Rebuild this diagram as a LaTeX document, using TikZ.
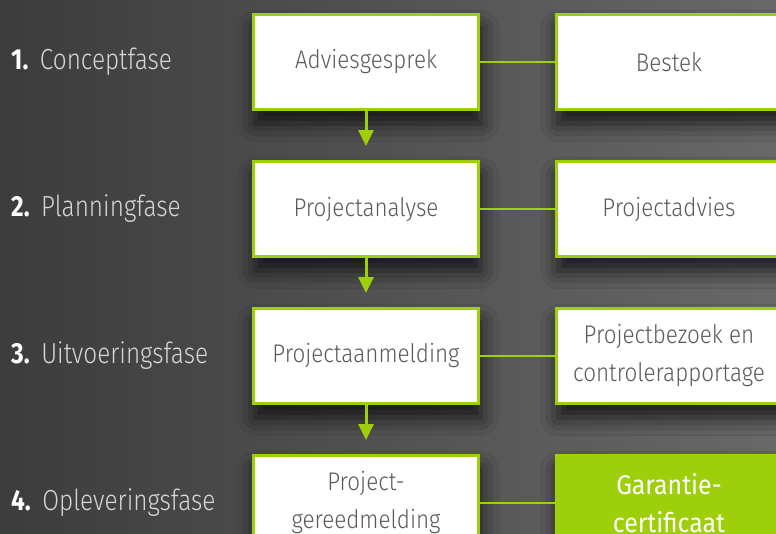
\documentclass[tikz,border=0pt]{standalone}
\usepackage{fontspec}
\setmainfont{Fira Sans}[UprightFont=* Light, BoldFont=* Bold, FakeStretch=0.88]
\newfontfamily\resultfont{Fira Sans}[FakeStretch=0.92]
\newfontfamily\phasefont{Fira Sans}[UprightFont=* Light, BoldFont=* Bold, FakeStretch=0.84]
\usetikzlibrary{positioning}
\usetikzlibrary{arrows.meta}
\usetikzlibrary{shadows.blur}
\definecolor{lime}{HTML}{9ECF0B}
\definecolor{boxtext}{HTML}{5A5A5A}
\definecolor{phasetext}{HTML}{D6D6D6}
\definecolor{bgleft}{HTML}{3C3C3C}
\definecolor{bgright}{HTML}{686868}
% bold white number in front of a phase name
\newcommand{\phasenum}[1]{{\color{white}\bfseries #1.}\hspace{0.4em}}
\tikzset {
  % box of one step
  stepnode/.style = {
    draw = lime,
    line width = 3pt,
    fill = white,
    minimum width = 225pt,
    minimum height = 95pt,
    inner sep = 0pt,
    align = center,
    text = boxtext,
    font = \fontsize{25.5}{38}\selectfont,
    blur shadow = {shadow xshift = 2pt, shadow yshift = -14pt,
      shadow blur radius = 18pt, shadow opacity = 75}
  },
  % final step, filled
  result/.style = {
    stepnode,
    fill = lime,
    text = white,
    font = \resultfont\fontsize{27}{38}\selectfont
  },
  % phase name on the left
  phase/.style = {
    anchor = west,
    inner sep = 0pt,
    text = phasetext,
    font = \phasefont\fontsize{29}{34}\selectfont
  },
  % arrow down to the next step
  flow/.style = {
    draw = lime,
    line width = 3pt,
    -{Triangle[width = 15pt, length = 16pt]},
    shorten > = 14pt
  },
  % line to the side box
  link/.style = {
    draw = lime,
    line width = 2.5pt
  },
  node distance = 49pt and 75pt
}
\begin{document}
\begin{tikzpicture}
    \useasboundingbox (0,0) rectangle (776pt,-533pt);
    \shade[left color = bgleft, right color = bgright] (0,0) rectangle (776pt,-533pt);

    \node[stepnode] (advies) at (366pt,-62pt) {Adviesgesprek};
    \node[stepnode] (analyse) [below=of advies] {Projectanalyse};
    \node[stepnode] (aanmelding) [below=of analyse] {Projectaanmelding};
    \node[stepnode] (gereed) [below=of aanmelding] {Project-\\gereedmelding};

    \node[stepnode] (bestek) [right=of advies] {Bestek};
    \node[stepnode] (projadvies) [right=of analyse] {Projectadvies};
    \node[stepnode] (bezoek) [right=of aanmelding] {Projectbezoek en\\controlerapportage};
    \node[result] (garantie) [right=of gereed] {Garantie-\\certificaat};

    \node[phase] (concept) at (advies.west -| 11pt,0) {\phasenum{1}Conceptfase};
    \node[phase] (planning) at (analyse.west -| 11pt,0) {\phasenum{2}Planningfase};
    \node[phase] (uitvoering) at (aanmelding.west -| 11pt,0) {\phasenum{3}Uitvoeringsfase};
    \node[phase] (oplevering) at (gereed.west -| 11pt,0) {\phasenum{4}Opleveringsfase};

    \draw[flow] (advies) -- (analyse);
    \draw[flow] (analyse) -- (aanmelding);
    \draw[flow] (aanmelding) -- (gereed);

    \draw[link] (advies) -- (bestek);
    \draw[link] (analyse) -- (projadvies);
    \draw[link] (aanmelding) -- (bezoek);
    \draw[link] (gereed) -- (garantie);
\end{tikzpicture}
\end{document}
